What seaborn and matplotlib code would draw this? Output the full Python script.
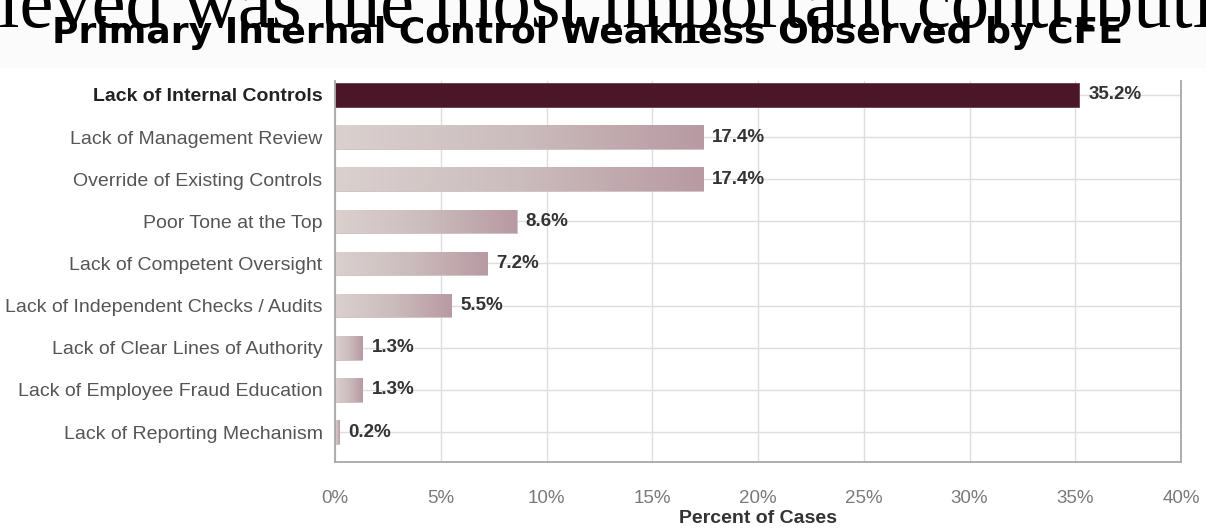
import numpy as np
import pandas as pd
import matplotlib
matplotlib.use("Agg")
import matplotlib.pyplot as plt
from matplotlib.colors import LinearSegmentedColormap
from matplotlib.patches import Rectangle
import seaborn as sns

categories = [
    "Lack of Internal Controls",
    "Lack of Management Review",
    "Override of Existing Controls",
    "Poor Tone at the Top",
    "Lack of Competent Oversight",
    "Lack of Independent Checks / Audits",
    "Lack of Clear Lines of Authority",
    "Lack of Employee Fraud Education",
    "Lack of Reporting Mechanism",
]
percent = [35.2, 17.4, 17.4, 8.6, 7.2, 5.5, 1.3, 1.3, 0.2]
x_ticks = [0, 5, 10, 15, 20, 25, 30, 35, 40]
x_tick_labels = [f"{t}%" for t in x_ticks]

title = "Primary Internal Control Weakness Observed by CFE"
slide_lead = "bel"
slide_text = "believed was the most important contributing"
x_label = "Percent of Cases"

df = pd.DataFrame({"category": categories, "percent": percent})

sns.set_theme(style="white")
plt.rcParams["font.family"] = ["Liberation Sans", "DejaVu Sans"]

W, H = 1206, 528
fig = plt.figure(figsize=(W / 100, H / 100), dpi=100)
fig.patch.set_facecolor("#fbfbfb")
renderer = fig.canvas.get_renderer()

# slide caption sitting behind the chart panel, its first letters run off the left edge
serif = dict(family=["Liberation Serif", "DejaVu Serif"], fontsize=55)
probe = fig.text(0, 0, slide_lead, **serif)
lead_w = probe.get_window_extent(renderer).width
probe.remove()
fig.text(-(lead_w + 2) / W, 1 - 27 / H, slide_text, color="black",
         ha="left", va="baseline", zorder=0.5, **serif)
# white chart panel
fig.patches.append(Rectangle((0, 0), 1, 1 - 68 / H, transform=fig.transFigure,
                             facecolor="white", edgecolor="none", zorder=0.8))

ax = fig.add_axes([335 / W, 1 - 462 / H, (1181 - 335) / W, (462 - 81) / H])
ax.set_zorder(1)

highlight = "#4a1628"
base = "#c8b6b9"
palette = [highlight] + [base] * (len(categories) - 1)
sns.barplot(data=df, x="percent", y="category", hue="category", palette=palette,
            legend=False, orient="h", width=0.56, ax=ax, saturation=1, zorder=2)

# horizontal light-to-mauve gradient on the secondary bars
grad = LinearSegmentedColormap.from_list("bar_grad", ["#dad1cf", "#cbbcbd", "#b89aa2"])
ramp = np.linspace(0, 1, 256).reshape(1, -1)
for i, patch in enumerate(ax.patches):
    if i == 0:
        patch.set_edgecolor("#6a3a48")
        patch.set_linewidth(0.6)
        continue
    x0 = patch.get_x()
    w = patch.get_width()
    y0 = patch.get_y()
    h = patch.get_height()
    patch.set_facecolor("none")
    patch.set_edgecolor("#c9b9bc")
    patch.set_linewidth(0.6)
    im = ax.imshow(ramp, extent=[x0, x0 + w, y0 + h, y0], aspect="auto",
                   cmap=grad, zorder=2, interpolation="bilinear")
    im.set_clip_path(patch)

# value labels
for i, v in enumerate(percent):
    ax.text(v + 0.42, i, f"{v:.1f}%", va="center", ha="left", fontsize=13.5,
            fontweight="bold", color="#333333", zorder=3)

ax.set_xlim(0, 40)
ax.set_ylim(len(categories) - 1 + 0.71, -0.33)
ax.set_xticks(x_ticks)
ax.set_xticklabels(x_tick_labels)
ax.set_yticks(range(len(categories)))
ax.set_yticklabels(categories)

ax.grid(True, axis="both", color="#dedede", linewidth=1, zorder=0)
ax.set_axisbelow(True)
for side in ["left", "bottom", "right"]:
    ax.spines[side].set_visible(True)
    ax.spines[side].set_color("#a8a8a8")
    ax.spines[side].set_linewidth(1.3)
ax.spines["top"].set_visible(False)

ax.tick_params(axis="y", length=0, pad=9, labelsize=14, labelcolor="#555555")
ax.tick_params(axis="x", length=0, pad=20, labelsize=13.5, labelcolor="#7a7a7a")
ytl = ax.get_yticklabels()
ytl[0].set_fontweight("bold")
ytl[0].set_color("#222222")

ax.set_ylabel("")
ax.set_xlabel(x_label, fontsize=14, fontweight="bold", color="#333333", labelpad=2)

fig.text(0.4875, 1 - 43 / H, title, fontsize=26, fontweight="bold", color="black",
         family=["DejaVu Sans"], ha="center", va="baseline", zorder=3)

fig.savefig("out.png", dpi=100, facecolor=fig.get_facecolor())
